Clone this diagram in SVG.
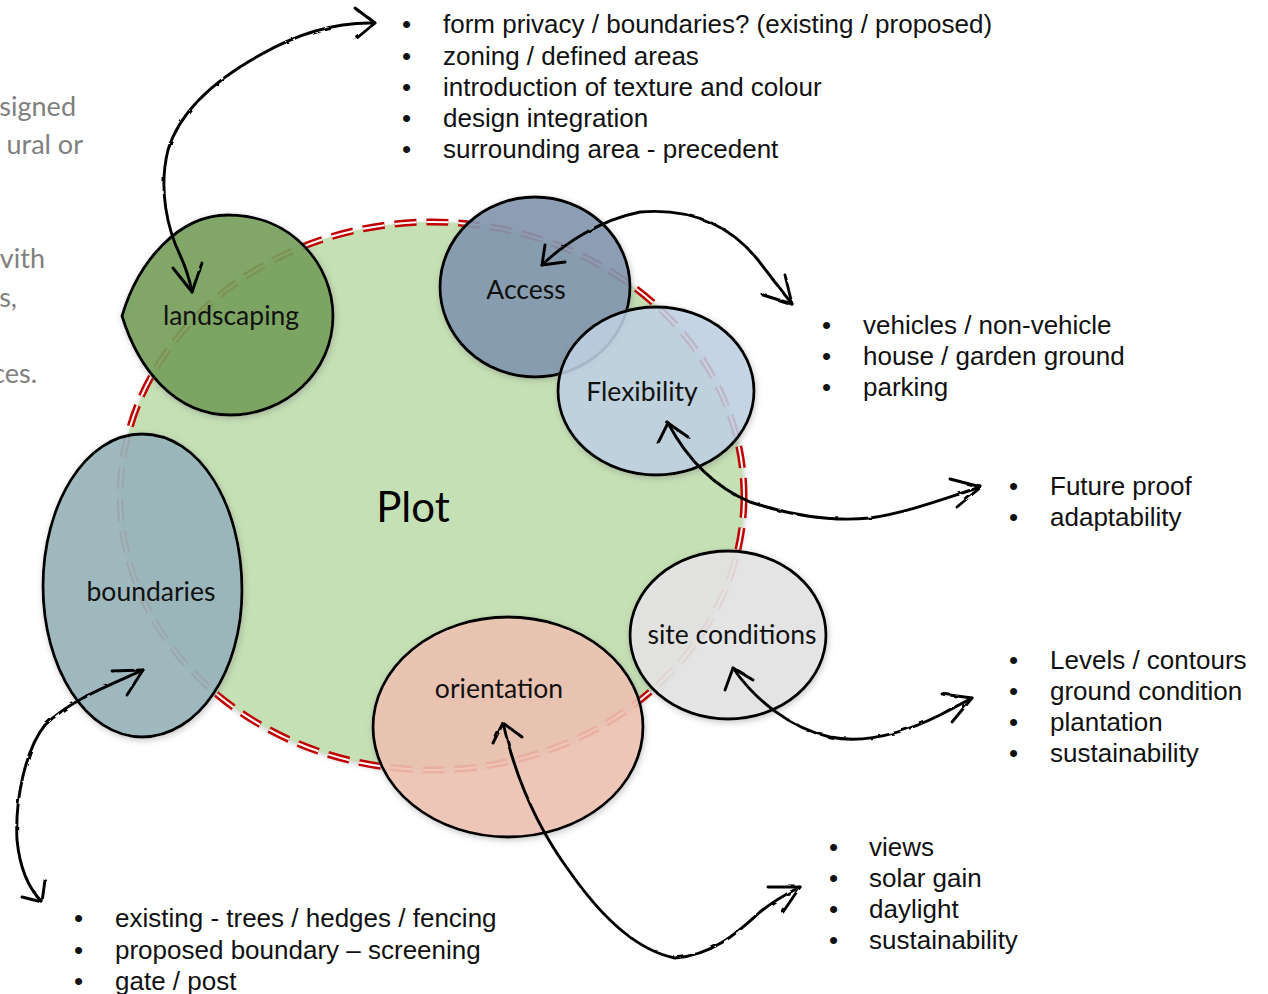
<svg xmlns="http://www.w3.org/2000/svg" width="1268" height="994" viewBox="0 0 1268 994">
  <style>
    .side { font-family: "Lato", "Open Sans", sans-serif; font-size: 27px; fill: #808080; }
    .list { font-family: "Liberation Sans", Arial, sans-serif; font-size: 26px; fill: #111; }
    .lbl { font-family: "Lato", "Open Sans", sans-serif; font-size: 26.5px; fill: #111; text-anchor: middle; }
    .node { stroke: #000; stroke-width: 2.8; filter: url(#soft); }
    .link { fill: none; stroke: #000; stroke-width: 2.9; stroke-linecap: round; stroke-linejoin: round; }
  </style>
  <defs>
    <filter id="soft" x="-20%" y="-20%" width="140%" height="140%">
      <feDropShadow dx="1" dy="2" stdDeviation="3" flood-color="#7a7a7a" flood-opacity="0.45"/>
    </filter>
    <filter id="rough" x="-5%" y="-5%" width="110%" height="110%">
      <feTurbulence type="fractalNoise" baseFrequency="0.08" numOctaves="2" seed="3"/>
      <feDisplacementMap in="SourceGraphic" scale="2.5"/>
    </filter>
  </defs>

  <rect width="1268" height="994" fill="#fff"/>

  <!-- text running in from the left margin -->
  <g id="margin-text">
    <text class="side" x="76" y="116" text-anchor="end">signed</text>
    <text class="side" x="83" y="154" text-anchor="end">ural or</text>
    <text class="side" x="45" y="268" text-anchor="end">vith</text>
    <text class="side" x="17" y="307" text-anchor="end">s,</text>
    <text class="side" x="37" y="383" text-anchor="end">ces.</text>
  </g>

  <!-- plot area with its double red dashed edge -->
  <g id="plot">
    <ellipse cx="432" cy="496" rx="312" ry="274" fill="#c5e0b4" filter="url(#soft)"/>
    <ellipse cx="432" cy="496" rx="312" ry="274" fill="none" stroke="#c00000" stroke-width="7" stroke-dasharray="22 10"/>
    <ellipse cx="432" cy="496" rx="312" ry="274" fill="none" stroke="#fff" stroke-width="2" stroke-dasharray="22 10"/>
    <text x="413" y="522" font-family="Lato, 'Open Sans', sans-serif" font-size="42" fill="#000" text-anchor="middle">Plot</text>
  </g>

  <g id="landscaping">
    <path class="node" d="M122,316 C138,262 178,215 228,215 C292,215 333,265 333,316 C333,372 286,415 230,415 C174,415 138,368 122,316 Z" fill="#76a05a" fill-opacity="0.88"/>
    <text class="lbl" x="231" y="325">landscaping</text>
  </g>

  <g id="access">
    <ellipse class="node" cx="535" cy="287" rx="95" ry="90" fill="#8497b0" fill-opacity="0.88"/>
    <text class="lbl" x="526" y="299">Access</text>
  </g>

  <g id="flexibility">
    <ellipse class="node" cx="656" cy="391" rx="98" ry="84" fill="#c2d4e8" fill-opacity="0.82"/>
    <text class="lbl" x="642" y="401">Flexibility</text>
  </g>

  <g id="site-conditions">
    <ellipse class="node" cx="728" cy="635" rx="98" ry="84" fill="#e6e6e6" fill-opacity="0.9"/>
    <text class="lbl" x="732" y="644">site conditions</text>
  </g>

  <g id="orientation">
    <ellipse class="node" cx="508" cy="727" rx="135" ry="110" fill="#f2c4b4" fill-opacity="0.85"/>
    <text class="lbl" x="499" y="698">orientation</text>
  </g>

  <g id="boundaries">
    <path class="node" d="M142,434 C200,434 242,505 242,590 C242,672 198,737 142,737 C86,737 43,668 43,586 C43,505 85,434 142,434 Z" fill="#9ab6bc" fill-opacity="0.9"/>
    <text class="lbl" x="151" y="601">boundaries</text>
  </g>

  <!-- bullet lists -->
  <g id="list-landscaping" class="list">
    <text x="402" y="33">•</text><text x="443" y="33">form privacy / boundaries? (existing / proposed)</text>
    <text x="402" y="65">•</text><text x="443" y="65">zoning / defined areas</text>
    <text x="402" y="96">•</text><text x="443" y="96">introduction of texture and colour</text>
    <text x="402" y="127">•</text><text x="443" y="127">design integration</text>
    <text x="402" y="158">•</text><text x="443" y="158">surrounding area - precedent</text>
  </g>
  <g id="list-access" class="list">
    <text x="822" y="334">•</text><text x="863" y="334">vehicles / non-vehicle</text>
    <text x="822" y="365">•</text><text x="863" y="365">house / garden ground</text>
    <text x="822" y="396">•</text><text x="863" y="396">parking</text>
  </g>
  <g id="list-flexibility" class="list">
    <text x="1009" y="495">•</text><text x="1050" y="495">Future proof</text>
    <text x="1009" y="526">•</text><text x="1050" y="526">adaptability</text>
  </g>
  <g id="list-site" class="list">
    <text x="1009" y="669">•</text><text x="1050" y="669">Levels / contours</text>
    <text x="1009" y="700">•</text><text x="1050" y="700">ground condition</text>
    <text x="1009" y="731">•</text><text x="1050" y="731">plantation</text>
    <text x="1009" y="762">•</text><text x="1050" y="762">sustainability</text>
  </g>
  <g id="list-orientation" class="list">
    <text x="829" y="856">•</text><text x="869" y="856">views</text>
    <text x="829" y="887">•</text><text x="869" y="887">solar gain</text>
    <text x="829" y="918">•</text><text x="869" y="918">daylight</text>
    <text x="829" y="949">•</text><text x="869" y="949">sustainability</text>
  </g>
  <g id="list-boundaries" class="list">
    <text x="74" y="927">•</text><text x="115" y="927">existing - trees / hedges / fencing</text>
    <text x="74" y="959">•</text><text x="115" y="959">proposed boundary – screening</text>
    <text x="74" y="990">•</text><text x="115" y="990">gate / post</text>
  </g>

  <!-- hand-drawn two-headed connectors -->
  <g id="connectors" class="link" filter="url(#rough)">
    <path d="M375,23 C340,22 300,32 260,55 C215,80 180,110 168,150 C158,190 168,230 180,255 C188,272 190,282 192,292"/>
    <path d="M355,8 L375,23 L357,38"/>
    <path d="M173,268 L192,292 L202,263"/>

    <path d="M542,265 C565,243 600,220 640,212 C690,208 730,225 758,260 C775,282 785,295 792,304"/>
    <path d="M545,245 L542,265 L565,262"/>
    <path d="M785,275 L792,304 L763,295"/>

    <path d="M668,423 C685,455 710,485 750,502 C790,515 830,522 870,518 C910,512 945,498 981,487"/>
    <path d="M658,443 L668,423 L688,437"/>
    <path d="M950,479 L981,487 L957,507"/>

    <path d="M733,668 C755,700 790,728 830,737 C870,745 910,730 940,715 C955,707 965,702 972,698"/>
    <path d="M725,690 L733,668 L753,680"/>
    <path d="M942,694 L972,698 L952,722"/>

    <path d="M503,723 C515,775 535,825 570,872 C600,915 635,950 675,958 C715,955 740,930 760,912 C775,900 788,893 800,887"/>
    <path d="M493,743 L503,723 L522,737"/>
    <path d="M768,887 L800,887 L783,912"/>

    <path d="M143,670 C110,685 70,700 45,725 C25,750 15,800 17,840 C20,870 30,890 42,902"/>
    <path d="M112,671 L143,670 L127,695"/>
    <path d="M22,897 L42,902 L45,880"/>
  </g>
</svg>
